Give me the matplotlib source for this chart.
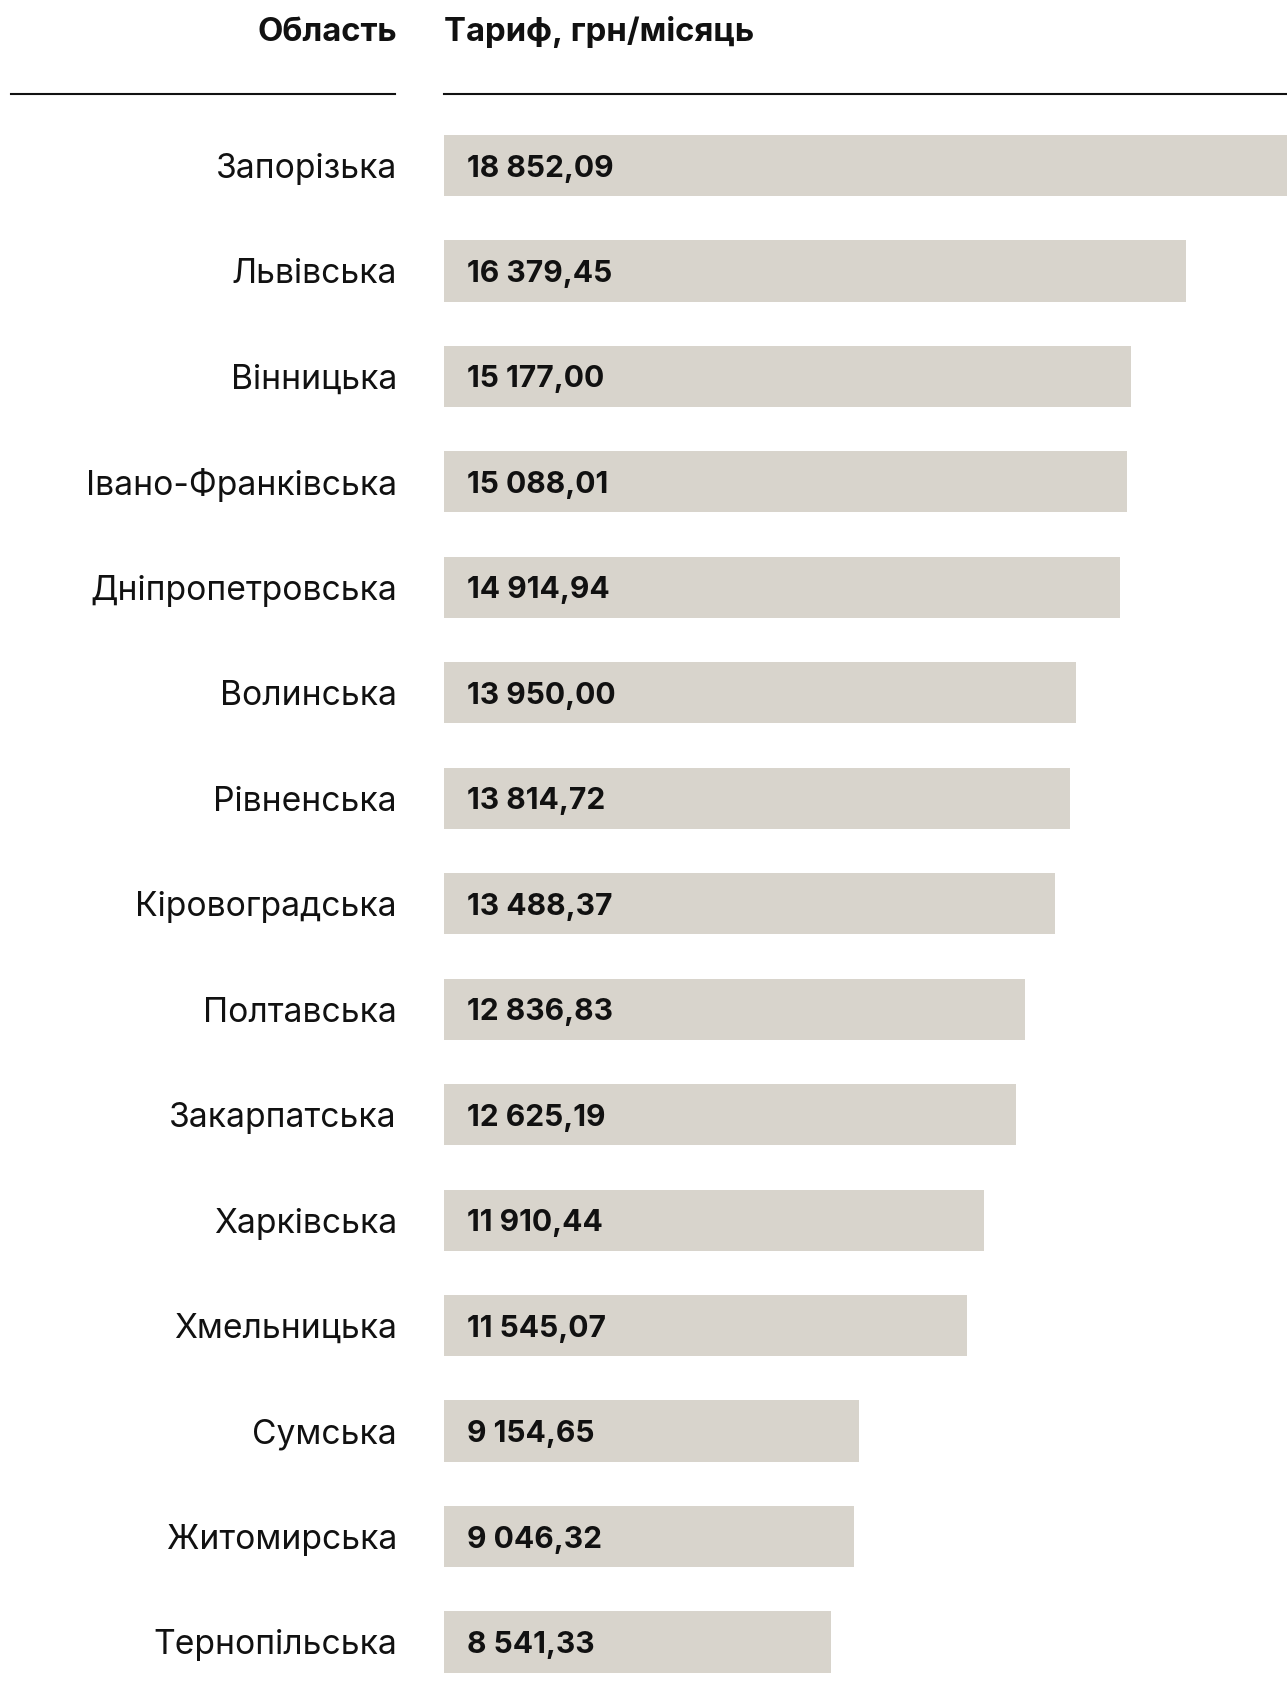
import matplotlib
matplotlib.use("Agg")
import matplotlib.pyplot as plt
from matplotlib.lines import Line2D

plt.rcParams['font.family'] = ['Inter', 'DejaVu Sans']

regions = ["Запорізька", "Львівська", "Вінницька", "Івано-Франківська",
           "Дніпропетровська", "Волинська", "Рівненська", "Кіровоградська",
           "Полтавська", "Закарпатська", "Харківська", "Хмельницька",
           "Сумська", "Житомирська", "Тернопільська"]
tariffs = [18852.09, 16379.45, 15177.00, 15088.01, 14914.94, 13950.00,
           13814.72, 13488.37, 12836.83, 12625.19, 11910.44, 11545.07,
           9154.65, 9046.32, 8541.33]

header_left = "Область"
header_right = "Тариф, грн/місяць"

W, H = 1287, 1707
fig = plt.figure(figsize=(W / 100, H / 100), dpi=100)
fig.patch.set_facecolor("white")

bar_color = "#d8d4cc"
text_color = "#111111"

ax = fig.add_axes([444 / W, 1 - 1694.7 / H, 1 - 444 / W, (1694.7 - 112.8) / H])
ypos = list(range(len(regions)))
ax.barh(ypos, tariffs, height=0.58, color=bar_color, linewidth=0)
ax.set_xlim(0, 18610)
ax.set_ylim(len(regions) - 0.5, -0.5)
ax.axis("off")

def fmt(v):
    return f"{v:,.2f}".replace(",", " ").replace(".", ",")

for y, name, v in zip(ypos, regions, tariffs):
    ax.annotate(fmt(v), xy=(0, y), xytext=(23, 0), textcoords="offset pixels",
                ha="left", va="center_baseline", fontsize=21.6, fontweight="bold",
                color=text_color)
    ax.annotate(name, xy=(0, y), xytext=(-47, 0), textcoords="offset pixels",
                ha="right", va="center_baseline", fontsize=24.2, color=text_color,
                annotation_clip=False)

# Column headers and rules
fig.text(397 / W, 1 - 29 / H, header_left, ha="right", va="center_baseline",
         fontsize=23.7, fontweight="bold", color=text_color)
fig.text(444 / W, 1 - 29 / H, header_right, ha="left", va="center_baseline",
         fontsize=23.7, fontweight="bold", color=text_color)
yline = 1 - 94 / H
fig.add_artist(Line2D([11 / W, 395 / W], [yline, yline], color=text_color, linewidth=1.5))
fig.add_artist(Line2D([444 / W, 1.0], [yline, yline], color=text_color, linewidth=1.5))

fig.savefig("out.png", dpi=100, facecolor="white")
